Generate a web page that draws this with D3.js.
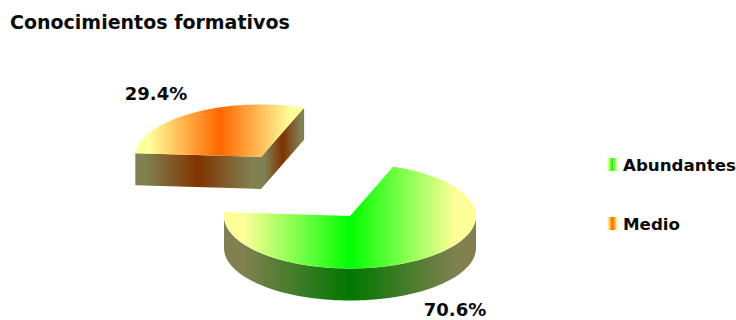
<!DOCTYPE html>
<html>
<head>
<meta charset="utf-8">
<style>
body { margin: 0; background: #fff; }
text { font-family: "DejaVu Sans", Verdana, sans-serif; font-weight: bold; fill: #0a0a0a; }
</style>
</head>
<body>
<script src="https://d3js.org/d3.v7.min.js"></script>
<script>
var title = "Conocimientos formativos";
var categories = ["Abundantes", "Medio"];
var values = [70.6, 29.4];
var valueLabels = ["70.6%", "29.4%"];

var width = 736, height = 320;
var rx = 126, ry = 52.5, depth = 32;
var center = { x: 350, y: 216 };
// the smaller slice is pulled out of the pie
var explode = [{ x: 0, y: 0 }, { x: -89, y: -59 }];
var labelPos = [{ x: 455, y: 316 }, { x: 156, y: 100 }];

// [edge colour, middle colour] of each gradient
var topColors = [["#ffff99", "#00ff00"], ["#ffff99", "#ff6600"]];
var sideColors = [["#808050", "#007700"], ["#808050", "#803300"]];

var svg = d3.select("body").append("svg")
  .attr("width", width).attr("height", height);
var defs = svg.append("defs");

var gradCount = 0;
function gradient(colors, x0, x1) {
  var id = "g" + (gradCount++);
  var g = defs.append("linearGradient").attr("id", id);
  if (x0 !== undefined) {
    g.attr("gradientUnits", "userSpaceOnUse")
      .attr("x1", x0).attr("x2", x1).attr("y1", 0).attr("y2", 0);
  }
  // edge colour holds for a bit before the ramp starts
  [[0, 0], [0.08, 0], [0.5, 1], [0.92, 0], [1, 0]].forEach(function(s) {
    g.append("stop").attr("offset", s[0]).attr("stop-color", colors[s[1]]);
  });
  return "url(#" + id + ")";
}

var pie = d3.pie().sort(null)
  .startAngle(20 * Math.PI / 180)
  .endAngle(380 * Math.PI / 180);
var slices = pie(values);

// d3.arc draws a circle, squashed to an ellipse by the transform
var arc = d3.arc().innerRadius(0).outerRadius(rx);

// point on the rim, pie angle measured clockwise from the top
function rim(a, o) {
  return [o.x + rx * Math.sin(a), o.y - ry * Math.cos(a)];
}

// side wall below the rim between two pie angles
function wallPath(a0, a1, o) {
  var n = 80, top = [], i;
  for (i = 0; i <= n; i++) top.push(rim(a0 + (a1 - a0) * i / n, o));
  var bottom = top.map(function(p) { return [p[0], p[1] + depth]; }).reverse();
  return d3.line()(top.concat(bottom)) + "Z";
}

function flatWall(p, q) {
  return d3.line()([p, q, [q[0], q[1] + depth], [p[0], p[1] + depth]]) + "Z";
}

function xRange(pts) {
  return d3.extent(pts, function(p) { return p[0]; });
}

slices.forEach(function(s, i) {
  var o = { x: center.x + explode[i].x, y: center.y + explode[i].y };
  var g = svg.append("g");
  var start = rim(s.startAngle, o), end = rim(s.endAngle, o), c = [o.x, o.y];

  if (s.endAngle - s.startAngle > Math.PI) {
    // big slice: curved front wall only
    var a0 = Math.max(s.startAngle, Math.PI / 2), a1 = Math.min(s.endAngle, 3 * Math.PI / 2);
    g.append("path").attr("d", wallPath(a0, a1, o))
      .attr("fill", gradient(sideColors[i], o.x - rx, o.x + rx));
  } else {
    // small slice: the two cut faces look to the front
    var ex1 = xRange([end, c]), ex2 = xRange([c, start]);
    g.append("path").attr("d", flatWall(end, c))
      .attr("fill", gradient(sideColors[i], ex1[0], ex1[1]));
    g.append("path").attr("d", flatWall(c, start))
      .attr("fill", gradient(sideColors[i], ex2[0], ex2[1]));
  }

  // top face gradient spans the width of the face on screen
  var xs = [start, end, c];
  var n = 60;
  for (var k = 0; k <= n; k++) xs.push(rim(s.startAngle + (s.endAngle - s.startAngle) * k / n, o));
  var ex = xRange(xs);
  g.append("path")
    .attr("d", arc(s))
    .attr("transform", "translate(" + o.x + "," + o.y + ") scale(1," + (ry / rx) + ")")
    .attr("fill", gradient(topColors[i], ex[0] - o.x, ex[1] - o.x));

  svg.append("text")
    .attr("x", labelPos[i].x).attr("y", labelPos[i].y)
    .attr("text-anchor", "middle")
    .style("font-size", "18px")
    .text(valueLabels[i]);
});

svg.append("text")
  .attr("x", 10).attr("y", 29)
  .style("font-size", "19px")
  .text(title);

// legend
var legendY = d3.scalePoint().domain(categories).range([164.5, 223.5]);
var legend = svg.selectAll("g.legend").data(categories).enter().append("g")
  .attr("class", "legend")
  .attr("transform", function(d) { return "translate(607," + legendY(d) + ")"; });

legend.append("rect")
  .attr("x", 0).attr("y", -6.5).attr("width", 11).attr("height", 13)
  .attr("fill", function(d, i) { return gradient(topColors[i]); });

// the first swatch has a thin white stripe right of its middle
legend.filter(function(d, i) { return i === 0; }).append("rect")
  .attr("x", 6).attr("y", -6.5).attr("width", 1).attr("height", 13)
  .attr("fill", "#fff");

legend.append("text")
  .attr("x", 16).attr("y", 6)
  .style("font-size", "16.7px")
  .text(function(d) { return d; });
</script>
</body>
</html>
